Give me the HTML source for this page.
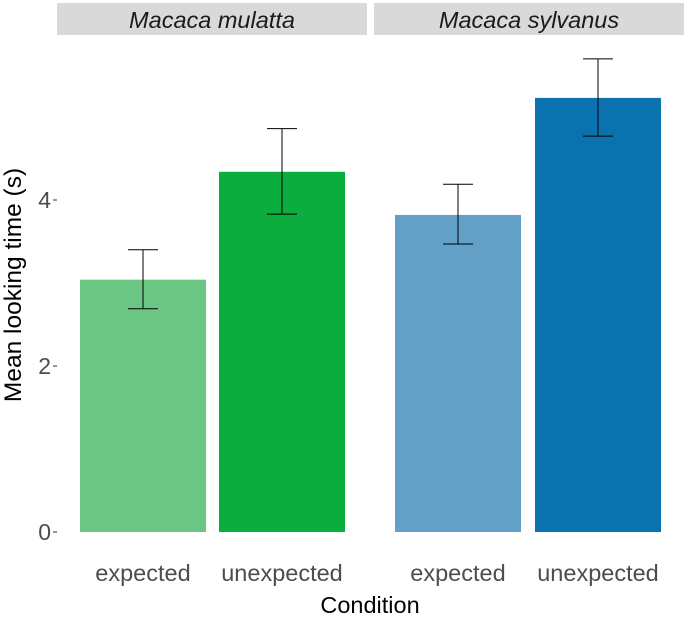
<!DOCTYPE html>
<html><head><meta charset="utf-8"><style>
html,body{margin:0;padding:0;background:#fff;}
svg{display:block;font-family:"Liberation Sans",Arial,sans-serif;}
</style></head><body>
<svg id="chart" width="685" height="618" xmlns="http://www.w3.org/2000/svg">
<rect x="57" y="3" width="310" height="32" fill="#d9d9d9"/>
<rect x="374" y="3" width="310" height="32" fill="#d9d9d9"/>
<text x="212" y="28" text-anchor="middle" font-size="23.5" font-style="italic" fill="#1a1a1a">Macaca mulatta</text>
<text x="529" y="28" text-anchor="middle" font-size="23.5" font-style="italic" fill="#1a1a1a">Macaca sylvanus</text>
<g id="yaxis"></g>
<g id="bars"></g>
<text x="370" y="613" text-anchor="middle" font-size="23.5" fill="#000">Condition</text>
<text transform="translate(21,285) rotate(-90)" text-anchor="middle" font-size="24.5" fill="#000">Mean looking time (s)</text>
</svg>
<script>
const categories = ["expected","unexpected","expected","unexpected"];
const species = ["Macaca mulatta","Macaca mulatta","Macaca sylvanus","Macaca sylvanus"];
const means = [3.04, 4.34, 3.82, 5.23];
const errLow = [2.69, 3.83, 3.47, 4.77];
const errHigh = [3.40, 4.86, 4.19, 5.70];
const colors = ["#6cc683","#0aad3e","#63a0c8","#0b72b0"];
const yTicks = [0, 2, 4];

const NS = "http://www.w3.org/2000/svg";
function y(v){ return 532 - v * 83; }
const barLeft = [80, 219, 395, 535];
const barW = 126;
function mk(tag, attrs, parent){ const e=document.createElementNS(NS,tag); for(const k in attrs) e.setAttribute(k,attrs[k]); parent.appendChild(e); return e; }

const ya = document.getElementById('yaxis');
yTicks.forEach(t=>{
  const l = mk('line',{x1:53,x2:57,y1:y(t),y2:y(t),stroke:'#333','stroke-width':1},ya);
  
  
  const tx = mk('text',{x:51,y:y(t)+8,'text-anchor':'end','font-size':23,fill:'#4d4d4d'},ya);
  tx.textContent = t;
  
  
});

const bg = document.getElementById('bars');
means.forEach((m,i)=>{
  const x0 = barLeft[i];
  const r = mk('rect',{x:x0,y:y(m),width:barW,height:y(0)-y(m),fill:colors[i]},bg);
  
  
  const cx = x0 + barW/2;
  const g = mk('g',{stroke:'#000','stroke-width':1},bg);
  
  
  mk('line',{x1:cx,x2:cx,y1:y(errHigh[i]),y2:y(errLow[i])},g);
  mk('line',{x1:cx-15,x2:cx+15,y1:y(errHigh[i]),y2:y(errHigh[i])},g);
  mk('line',{x1:cx-15,x2:cx+15,y1:y(errLow[i]),y2:y(errLow[i])},g);
  const lab = mk('text',{x:cx,y:581,'text-anchor':'middle','font-size':23.5,fill:'#4d4d4d'},bg);
  lab.textContent = categories[i];
  
  
});
</script>
</body></html>
